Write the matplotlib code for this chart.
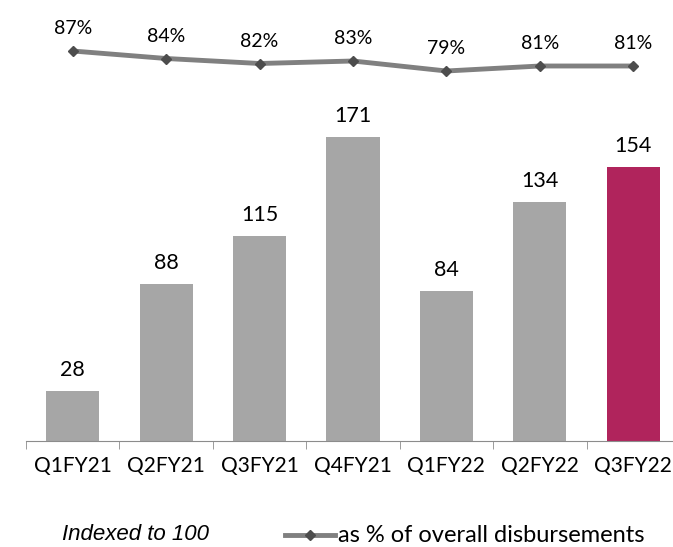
import matplotlib
matplotlib.use("Agg")
import matplotlib.pyplot as plt
from matplotlib.lines import Line2D

# data
quarters = ["Q1FY21", "Q2FY21", "Q3FY21", "Q4FY21", "Q1FY22", "Q2FY22", "Q3FY22"]
indexed = [28, 88, 115, 171, 84, 134, 154]
share_pct = [87, 84, 82, 83, 79, 81, 81]

bar_grey = "#a6a6a6"
highlight = "#b0245c"
plt.rcParams["font.family"] = ["Lato", "DejaVu Sans"]

W, H = 673, 547
fig = plt.figure(figsize=(W / 100, H / 100), dpi=100)

def px_axes(x0, y0, x1, y1):
    # pixel box (top-left origin) -> figure fraction
    return fig.add_axes([x0 / W, 1 - y1 / H, (x1 - x0) / W, (y1 - y0) / H])

x = list(range(len(quarters)))

# bars
ax = px_axes(26, 101, 680, 441)
colors = [bar_grey] * (len(quarters) - 1) + [highlight]
bars = ax.bar(x, indexed, width=0.57, color=colors)
ax.set_xlim(-0.5, len(quarters) - 0.5)
ax.set_ylim(0, 340 / 1.78)
for b, v in zip(bars, indexed):
    ax.annotate(str(v), (b.get_x() + b.get_width() / 2, v), xytext=(0, 8),
                textcoords="offset points", ha="center", va="bottom", fontsize=15.5)
for s in ["top", "right", "left"]:
    ax.spines[s].set_visible(False)
ax.spines["bottom"].set_color("#8c8c8c")
ax.set_yticks([])
ax.set_xticks(x)
ax.set_xticklabels(quarters, fontsize=15)
ax.tick_params(axis="x", length=0, pad=11)
ax.set_xticks([i - 0.5 for i in x] + [len(quarters) - 0.5], minor=True)
ax.tick_params(axis="x", which="minor", length=6, color="#8c8c8c")

# line on top
lx = px_axes(26, 20, 680, 91)
lx.plot(x, share_pct, color="#808080", lw=3.5, marker="D", ms=5,
        mfc="#4d4d4d", mec="#4d4d4d", solid_capstyle="round")
lx.set_xlim(-0.5, len(quarters) - 0.5)
lx.set_ylim(87 - 40 / 2.5, 87 + 31 / 2.5)
for i, p in zip(x, share_pct):
    lx.annotate(f"{p}%", (i, p), xytext=(0, 10), textcoords="offset points",
                ha="center", va="bottom", fontsize=14)
lx.axis("off")

# legend-like footer
fig.text(62 / W, 1 - 534 / H, "Indexed to 100", fontsize=16, style="italic",
         family="Liberation Sans", va="center", ha="left")
leg_line = Line2D([285 / W, 335 / W], [1 - 535 / H] * 2, transform=fig.transFigure,
                  color="#808080", lw=3.5)
fig.add_artist(leg_line)
leg_mark = Line2D([310 / W], [1 - 535 / H], transform=fig.transFigure,
                  marker="D", ms=5, color="#4d4d4d", lw=0)
fig.add_artist(leg_mark)
fig.text(338 / W, 1 - 535 / H, "as % of overall disbursements", fontsize=17,
         va="center", ha="left")

fig.savefig("out.png", dpi=100)
